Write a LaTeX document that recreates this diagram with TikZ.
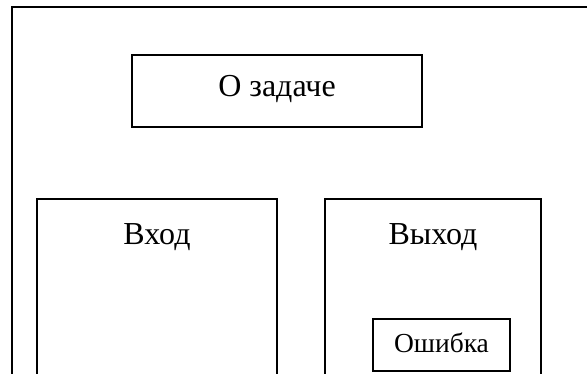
\documentclass[tikz,border=0pt]{standalone}
\usepackage{fontspec}
\setmainfont{Liberation Serif}
\begin{document}
\begin{tikzpicture}[x=1pt,y=-1pt,
  box/.style={draw=black,line width=2pt,rectangle,inner sep=0pt,outer sep=0pt,anchor=north west},
  lbl/.style={anchor=base,inner sep=0pt,font=\fontsize{32}{36}\selectfont},
  slbl/.style={anchor=base,inner sep=0pt,font=\fontsize{27.5}{32}\selectfont}]
\useasboundingbox (0,0) rectangle (587,374);
\clip (0,0) rectangle (587,374);
\node[box,minimum width=640pt,minimum height=420pt] (frame) at (12,7) {};
\node[box,minimum width=290pt,minimum height=72pt] (task) at (132,55) {};
\node[lbl] (tasklbl) at (277,96.5) {О задаче};
\node[box,minimum width=240pt,minimum height=220pt] (in) at (37,199) {};
\node[lbl] (inlbl) at (157,245) {Вход};
\node[box,minimum width=216pt,minimum height=220pt] (out) at (325,199) {};
\node[lbl] (outlbl) at (433,245) {Выход};
\node[box,minimum width=137pt,minimum height=52pt] (err) at (373,319) {};
\node[slbl] (errlbl) at (441.5,353) {Ошибка};
\end{tikzpicture}
\end{document}
